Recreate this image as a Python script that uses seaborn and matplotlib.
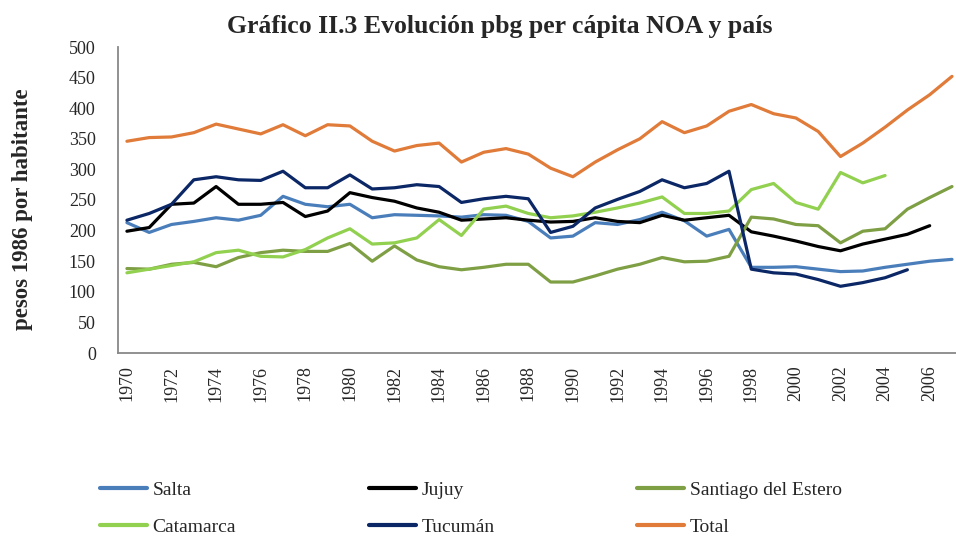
import numpy as np
import pandas as pd
import matplotlib
matplotlib.use("Agg")
import matplotlib.pyplot as plt
import seaborn as sns
from matplotlib.lines import Line2D

years = list(range(1970, 2008))
nan = np.nan
salta = [213, 197, 210, 215, 221, 217, 225, 256, 243, 239,
         243, 221, 226, 225, 224, 222, 226, 225, 215, 188,
         191, 213, 210, 218, 230, 216, 191, 202, 140, 140,
         141, 137, 133, 134, 140, 145, 150, 153]
jujuy = [199, 205, 243, 245, 272, 243, 243, 246, 223, 232,
         262, 254, 248, 237, 230, 217, 219, 221, 217, 214,
         215, 221, 215, 213, 225, 217, 221, 225, 198, 191,
         183, 174, 167, 178, 186, 194, 208, nan]
santiago = [138, 137, 145, 148, 141, 156, 164, 168, 166, 166,
            179, 150, 175, 152, 141, 136, 140, 145, 145, 116,
            116, 126, 137, 145, 156, 149, 150, 158, 222, 219,
            210, 208, 180, 199, 203, 235, 254, 272]
catamarca = [131, 137, 143, 149, 164, 168, 158, 157, 169, 188,
             203, 178, 180, 188, 218, 192, 235, 240, 228, 221,
             224, 230, 237, 245, 255, 228, 228, 232, 267, 277,
             246, 235, 295, 278, 290, nan, nan, nan]
tucuman = [217, 228, 243, 283, 288, 283, 282, 297, 270, 270,
           291, 268, 270, 275, 272, 246, 252, 256, 252, 197,
           207, 237, 251, 264, 283, 270, 277, 297, 137, 131,
           129, 120, 109, 115, 123, 136, nan, nan]
total = [346, 352, 353, 360, 374, 366, 358, 373, 355, 373,
         371, 346, 330, 339, 343, 312, 328, 334, 325, 302,
         288, 312, 332, 350, 378, 360, 371, 395, 406, 391,
         384, 362, 321, 343, 369, 397, 422, 452]

series_names = ["Salta", "Jujuy", "Santiago del Estero", "Catamarca", "Tucumán", "Total"]
series_values = [salta, jujuy, santiago, catamarca, tucuman, total]
colors = ["#4A7EBB", "#000000", "#7F9F45", "#92D050", "#0B2766", "#E07B39"]
xtick_years = list(range(1970, 2007, 2))
yticks = list(range(0, 501, 50))

title = "Gráfico II.3 Evolución pbg per cápita NOA y país"
ylabel = "pesos 1986 por habitante"

rows = []
for name, vals in zip(series_names, series_values):
    for y, v in zip(years, vals):
        if not np.isnan(v):
            rows.append({"year": y, "value": v, "serie": name})
df = pd.DataFrame(rows)

sns.set_style("white")
plt.rcParams["font.family"] = ["Liberation Serif", "DejaVu Serif"]

fig = plt.figure(figsize=(9.56, 5.38), dpi=100)
ax = fig.add_axes([118 / 956, 1 - 353 / 538, 1 - 118 / 956, (353 - 47) / 538])

sns.lineplot(data=df, x="year", y="value", hue="serie", hue_order=series_names,
             palette=dict(zip(series_names, colors)), linewidth=2.3, ax=ax,
             legend=False)

ax.set_xlim(1969.6, 2007.18)
ax.set_ylim(0, 500)
ax.set_yticks(yticks)
ax.set_xticks(xtick_years)
ax.set_xticklabels([str(y) for y in xtick_years], rotation=90, fontsize=13)
ax.tick_params(axis="y", labelsize=13, length=0, pad=16)
ax.tick_params(axis="x", length=0, pad=9)
ax.set_xlabel("")
ax.set_ylabel(ylabel, fontsize=16.5, fontweight="bold")
ax.yaxis.set_label_coords(-0.101, 0.47)
for s in ["top", "right"]:
    ax.spines[s].set_visible(False)
for s in ["left", "bottom"]:
    ax.spines[s].set_color("#888888")
    ax.spines[s].set_linewidth(1.3)
ax.grid(False)

fig.text(0.523, 0.950, title, ha="center", va="center", fontsize=18.5, fontweight="bold")

# three legend columns placed like the reference
col_x = [100 / 956, 369 / 956, 637 / 956]
for c in range(3):
    idx = [c, c + 3]
    handles = [Line2D([0], [0], color=colors[i], linewidth=3) for i in idx]
    labels = [series_names[i] for i in idx]
    fig.legend(handles, labels, loc="center left", bbox_to_anchor=(col_x[c], 0.054),
               ncol=1, frameon=False, fontsize=14, handlelength=2.4,
               handletextpad=0.3, labelspacing=1.0, borderaxespad=0,
               borderpad=0)

fig.savefig("out.png", dpi=100)
